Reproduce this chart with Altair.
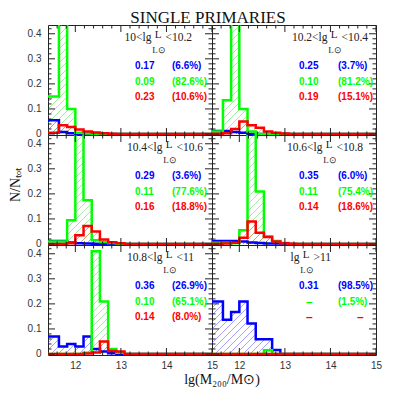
import altair as alt
import pandas as pd
import numpy as np

# ---------------- data ----------------
bin_edges = [11.4, 11.64, 11.82, 12.0, 12.18, 12.36, 12.54, 12.72, 12.9, 13.08,
             13.26, 13.44, 13.62, 13.8, 13.98, 14.16, 14.34, 14.52, 14.7, 14.88, 15.0]

lum_prefix = ["10<lg", "10.2<lg", "10.4<lg", "10.6<lg", "10.8<lg", "lg"]
lum_suffix = ["<10.2", "<10.4", "<10.6", "<10.8", "<11", ">11"]

blue_hist = [
    [0.055, 0.008, 0.003],
    [0.012, 0.012, 0.008, 0.005],
    [0.012, 0.012, 0.006, 0.003, 0.002, 0.001],
    [0.012, 0.012, 0.012, 0.01, 0.006, 0.004, 0.002, 0.002],
    [0.07, 0.03, 0.04, 0.03, 0.07, 0.02, 0.01, 0.003],
    [0.21, 0.137, 0.168, 0.21, 0.122, 0.059, 0.059, 0.016],
]
green_hist = [
    [0.15, 0.569, 0.10, 0.005, 0.002],
    [0.01, 0.135, 0.557, 0.10, 0.01],
    [0.01, 0.01, 0.095, 0.459, 0.175, 0.015, 0.008, 0.004],
    [0.005, 0.005, 0.003, 0.055, 0.44, 0.21, 0.03, 0.012, 0.004],
    [0.0, 0.0, 0.0, 0.0, 0.005, 0.41, 0.21, 0.02, 0.005],
    [0.0, 0.0, 0.0, 0.0, 0.0, 0.0, 0.015],
]
red_hist = [
    [0.005, 0.035, 0.028, 0.018, 0.010, 0.006, 0.003, 0.001],
    [0.001, 0.003, 0.02, 0.05, 0.035, 0.025, 0.01, 0.005, 0.002],
    [0.0, 0.0, 0.003, 0.035, 0.072, 0.05, 0.018, 0.007, 0.003],
    [0.001, 0.002, 0.005, 0.025, 0.09, 0.045, 0.028, 0.01, 0.003, 0.001],
    [0.0, 0.0, 0.0, 0.0, 0.002, 0.006, 0.05, 0.012, 0.01],
    [],
]

blue_med = ["0.17", "0.25", "0.29", "0.35", "0.36", "0.31"]
blue_pct = ["(6.6%)", "(3.7%)", "(3.6%)", "(6.0%)", "(26.9%)", "(98.5%)"]
green_med = ["0.09", "0.10", "0.11", "0.11", "0.10", "–"]
green_pct = ["(82.6%)", "(81.2%)", "(77.6%)", "(75.4%)", "(65.1%)", "(1.5%)"]
red_med = ["0.23", "0.19", "0.16", "0.14", "0.14", "–"]
red_pct = ["(10.6%)", "(15.1%)", "(18.8%)", "(18.6%)", "(8.0%)", "–"]

x_major = [12, 13, 14, 15]
y_major = [0, 0.1, 0.2, 0.3, 0.4]

# ---------------- style ----------------
BLUE, GREEN, RED = "#0000ff", "#00ff00", "#ff0000"
HATCH = {BLUE: "#3030ff", GREEN: "#30d030", RED: "#ff5020"}
X_DOM = [11.4, 15.0]
Y_DOM = [-0.004, 0.435]
W, H = 164, 110
NB = len(bin_edges) - 1
FRAME = "#222222"

# fraction centre of the luminosity label per panel (pixel, relative to panel)
frac_x = [110, 122, 121, 117, 121, 94]

one = pd.DataFrame({"z": [0]})

x_minor = [round(v, 2) for v in np.arange(11.6, 15.0, 0.2) if abs(v - round(v)) > 1e-6]
y_minor = [round(v, 2) for v in np.arange(0.02, 0.435, 0.02) if abs(v * 10 - round(v * 10)) > 1e-6]


def pad(v):
    return list(v) + [0.0] * (NB - len(v))


def step_df(vals):
    v = pad(vals)
    return pd.DataFrame({"x": bin_edges, "y": v + [v[-1]]})


def hatch_df(vals):
    sx = W / (X_DOM[1] - X_DOM[0])
    sy = H / (Y_DOM[1] - Y_DOM[0])
    k = sx / sy
    dt = 7.0 / sx
    ymax = Y_DOM[1]
    t0 = X_DOM[0] - ymax / k
    rows = []
    for a, b, h in zip(bin_edges[:-1], bin_edges[1:], pad(vals)):
        if h <= 0:
            continue
        hh = min(h, ymax)
        j = 0
        while True:
            t = t0 + j * dt
            j += 1
            if t >= b:
                break
            x1 = max(a, t)
            x2 = min(b, t + hh / k)
            if x2 > x1:
                rows.append({"x": x1, "y": k * (x1 - t), "x2": x2, "y2": k * (x2 - t)})
    return pd.DataFrame(rows if rows else [{"x": 11.0, "y": 0, "x2": 11.0, "y2": 0}])


def txt(x, y, s, color="black", size=10, font="Liberation Sans", align="left",
        baseline="middle", weight="normal", angle=0):
    return alt.Chart(one).mark_text(
        align=align, baseline=baseline, font=font, fontSize=size, color=color,
        fontWeight=weight, angle=angle
    ).encode(x=alt.value(x), y=alt.value(y), text=alt.value(s))


def panel(i):
    col, row = i % 2, i // 2
    xscale = alt.Scale(domain=X_DOM, nice=False, zero=False)
    yscale = alt.Scale(domain=Y_DOM, nice=False, zero=False)
    if row == 2:
        xaxis = alt.Axis(values=x_major, ticks=False, domain=False, grid=False,
                         labelFlush=False, labelPadding=5, labelFontSize=10,
                         labelFont="Liberation Sans", labelColor="#333333", title=None)
    else:
        xaxis = None
    if col == 0:
        yaxis = alt.Axis(values=y_major, ticks=False, domain=False, grid=False,
                         labelFlush=False, labelPadding=7, labelFontSize=10,
                         labelFont="Liberation Sans", labelColor="#333333", title=None,
                         labelExpr="datum.value == 0 ? '0' : format(datum.value, '.1f')")
    else:
        yaxis = None

    def X(f):
        return alt.X(f, type="quantitative", scale=xscale, axis=xaxis, title=None)

    def Y(f):
        return alt.Y(f, type="quantitative", scale=yscale, axis=yaxis, title=None)

    layers = []
    series = [(blue_hist[i], BLUE), (green_hist[i], GREEN), (red_hist[i], RED)]
    for vals, c in series:
        layers.append(
            alt.Chart(hatch_df(vals)).mark_rule(clip=True, strokeWidth=0.6, color=HATCH[c], opacity=0.75)
            .encode(x=X("x"), y=Y("y"), x2="x2", y2="y2")
        )
    for vals, c in series:
        layers.append(
            alt.Chart(step_df(vals)).mark_line(interpolate="step-after", clip=True, strokeWidth=2.5, color=c)
            .encode(x=X("x"), y=Y("y"))
        )
    # inside ticks on all four sides
    xmaj = pd.DataFrame({"v": x_major})
    xmin = pd.DataFrame({"v": x_minor})
    ymaj = pd.DataFrame({"v": y_major})
    ymin = pd.DataFrame({"v": y_minor})
    for df, L in [(xmaj, 7), (xmin, 3.5)]:
        layers.append(alt.Chart(df).mark_rule(color=FRAME, strokeWidth=1)
                      .encode(x=X("v"), y=alt.value(H), y2=alt.value(H - L)))
        layers.append(alt.Chart(df).mark_rule(color=FRAME, strokeWidth=1)
                      .encode(x=X("v"), y=alt.value(0), y2=alt.value(L)))
    for df, L in [(ymaj, 7), (ymin, 3.5)]:
        layers.append(alt.Chart(df).mark_rule(color=FRAME, strokeWidth=1)
                      .encode(y=Y("v"), x=alt.value(0), x2=alt.value(L)))
        layers.append(alt.Chart(df).mark_rule(color=FRAME, strokeWidth=1)
                      .encode(y=Y("v"), x=alt.value(W), x2=alt.value(W - L)))

    # luminosity label: prefix, fraction L / L_sun, suffix
    fx = frac_x[i]
    layers.append(txt(fx - 6.5, 13, lum_prefix[i], color="#222222", size=11.5,
                      font="Liberation Serif", align="right"))
    layers.append(txt(fx, 10, "L", color="#222222", size=11, font="Liberation Serif", align="center"))
    layers.append(txt(fx + 1, 24.5, "L⊙", color="#222222", size=9, font="Liberation Serif", align="center"))
    layers.append(txt(fx + 7.5, 13, lum_suffix[i], color="#222222", size=11.5, font="Liberation Serif"))

    # statistics
    nx = 87
    px = 124 if col == 0 else 126
    rows_txt = [(blue_med[i], blue_pct[i], BLUE, 41),
                (green_med[i], green_pct[i], GREEN, 56.5),
                (red_med[i], red_pct[i], RED, 72)]
    for med, pct, c, yy in rows_txt:
        if med == "–":
            layers.append(txt(nx + 7, yy, med, color=c, weight="bold", size=12))
        else:
            layers.append(txt(nx, yy, med, color=c, weight="bold"))
        if pct == "–":
            layers.append(txt(px + 19, yy, pct, color=c, weight="bold", size=12))
        else:
            layers.append(txt(px, yy, pct, color=c, weight="bold"))

    # global titles placed in specific panels
    if i == 0:
        layers.append(txt(W - 4, -2.5, "SINGLE PRIMARIES", color="#111111", size=17,
                          font="Liberation Serif", align="center", baseline="alphabetic"))
    if i == 2:
        layers.append(txt(-32, 50, "N/Nₜₒₜ", color="#111111", size=14,
                          font="Liberation Serif", align="center", angle=270))
    if i == 4:
        layers.append(txt(174, H + 25, "lg(M₂₀₀/M⊙)", color="#111111", size=14,
                          font="Liberation Serif", align="center"))

    return alt.layer(*layers).properties(width=W, height=H)


panels = [panel(i) for i in range(6)]

chart = alt.concat(*panels, columns=2, spacing=0, bounds="flush").properties(
    padding=0
).configure_view(stroke=FRAME, strokeWidth=1)

chart.save("out.html", embed_options={"renderer": "svg", "actions": False})
